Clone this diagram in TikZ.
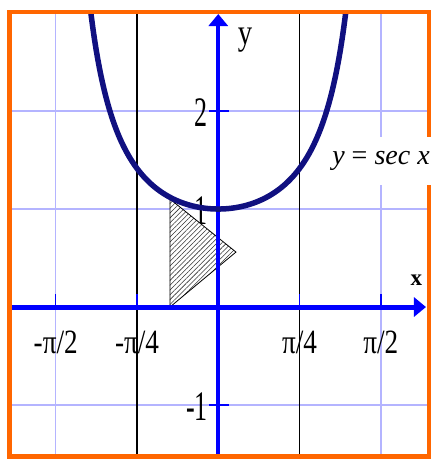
\documentclass[tikz,border=0pt]{standalone}
\usepackage{fontspec}
\setmainfont{Liberation Serif}
\newfontfamily\tallfont[FakeStretch=0.62]{Liberation Serif}
\newfontfamily\midfont[FakeStretch=0.8]{Liberation Serif}
\usepackage{tikz}
\usetikzlibrary{arrows.meta,patterns.meta}
\definecolor{frameorange}{RGB}{255,102,0}
\definecolor{gridblue}{RGB}{180,180,255}
\definecolor{axisblue}{RGB}{0,0,255}
\definecolor{curvenavy}{RGB}{16,16,128}

\begin{document}
\begin{tikzpicture}[x=103.5bp,y=98bp,>={Triangle[length=12bp,width=19bp]},
  gridline/.style={gridblue,line width=1.3bp},
  asym/.style={black,line width=1.2bp},
  axisline/.style={axisblue,line width=5bp,->},
  tickmark/.style={axisblue,line width=1.5bp},
  secant/.style={curvenavy,line width=5.5bp},
  hatched/.style={black,line width=0.8bp,preaction={fill=white},
    pattern={Lines[angle=45,distance=3.4bp,line width=0.55bp]},pattern color=black!80},
  xlab/.style={font=\midfont\fontsize{34bp}{34bp}\selectfont,inner sep=0pt},
  ylab/.style={font=\tallfont\fontsize{42bp}{42bp}\selectfont,inner sep=0pt,anchor=east}]
\useasboundingbox (-2.109,-1.561) rectangle (2.065,3.133);
\fill[white] (-2.109,-1.561) rectangle (2.065,3.133);
\coordinate (bl) at (-2.017,-1.526);
\coordinate (tr) at (2.035,3.013);
\foreach \g in {-1.5708,-0.7854,0.7854,1.5708}
  \draw[gridline] (\g,-1.526)--(\g,3.013);
\foreach \h in {-1,1,2}
  \draw[gridline] (-2.017,\h)--(2.035,\h);
\draw[asym] (-0.7854,-1.526)--(-0.7854,3.013);
\draw[asym] (0.7854,-1.526)--(0.7854,3.013);
\node[ylab] (yone) at (-0.1,0.98) {1};
\coordinate (ta) at (-0.467,1.102);
\coordinate (tb) at (-0.467,0);
\coordinate (tc) at (0.171,0.561);
\draw[hatched] (ta)--(tb)--(tc)--cycle;
\coordinate (xstart) at (-2.017,0);
\coordinate (xend) at (2.007,0);
\coordinate (ystart) at (0,-1.526);
\coordinate (yend) at (0,2.99);
\draw[axisline] (xstart)--(xend);
\draw[axisline,line width=4bp] (ystart)--(yend);
\foreach \g in {-1.5708,-0.7854,0.7854,1.5708}
  \draw[tickmark] (\g,0)--(\g,0.133);
\foreach \h in {-1,2}
  \draw[tickmark] (-0.092,\h)--(0.1,\h);
\begin{scope}
  \clip (bl) rectangle (tr);
  \draw[secant] plot[domain=-1.26:1.26,samples=160] (\x,{1/cos(\x r)});
\end{scope}
\node[xlab] (mhalfpi) at (-1.5708,-0.357) {-π/2};
\node[xlab] (mquarterpi) at (-0.7854,-0.357) {-π/4};
\node[xlab] (quarterpi) at (0.7854,-0.357) {π/4};
\node[xlab] (halfpi) at (1.5708,-0.357) {π/2};
\node[ylab] (ytwo) at (-0.1,1.98) {2};
\node[ylab] (ymone) at (-0.1,-1.02) {-1};
\node[font=\midfont\fontsize{36bp}{36bp}\selectfont,inner sep=0pt] (ylabel) at (0.258,2.724) {y};
\node[font=\bfseries\fontsize{23bp}{23bp}\selectfont,inner sep=0pt] (xlabel) at (1.915,0.276) {x};
\draw[frameorange,line width=4.5bp] (bl) rectangle (tr);
\node[fill=white,inner sep=0pt,minimum width=102bp,minimum height=48bp,
  font=\fontsize{28bp}{28bp}\selectfont] (seclabel) at (1.572,1.49)
  {\textit{y} = \textit{sec x}};
\end{tikzpicture}
\end{document}
